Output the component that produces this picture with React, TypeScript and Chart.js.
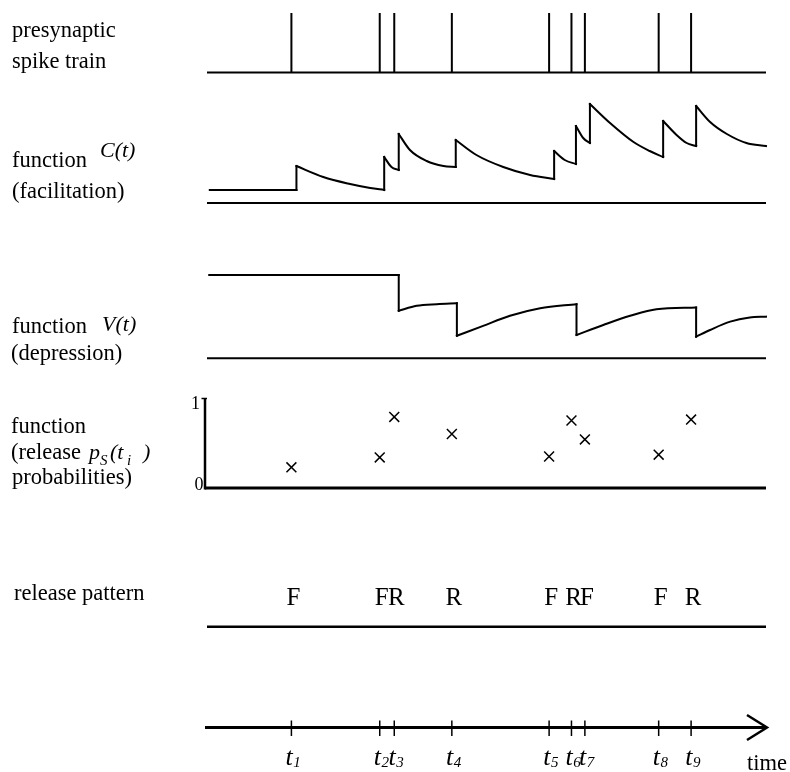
import React, { useEffect, useRef } from "react";
import { Chart, registerables } from "chart.js";

Chart.register(...registerables);

const W = 790;
const H = 772;

// ---------------- data ----------------
// presynaptic spike times (time axis 0..100)
const spikeTimes = [15.1, 30.9, 33.5, 43.8, 61.2, 65.2, 67.6, 80.8, 86.6];
const spikeSubscripts = ["1", "2", "3", "4", "5", "6", "7", "8", "9"];
// release probabilities p_S(t_i)
const releaseProbabilities = [0.23, 0.34, 0.79, 0.6, 0.35, 0.75, 0.54, 0.37, 0.76];
// release pattern: F = failure, R = release
const releaseOutcomes = ["F", "F", "R", "R", "F", "R", "F", "F", "R"];
const probTickValues = [0, 1];
const probTickLabels = ["0", "1"];

// facilitation C(t): piecewise segments (times / values)
const cSegmentTimes = [
  [0.5, 16.0],
  [16.0, 20.8, 25.6, 29.2, 31.7],
  [31.7, 33.0, 34.3],
  [34.3, 36.3, 39.3, 42.3, 44.5],
  [44.5, 48.2, 53.0, 57.8, 62.1],
  [62.1, 64.0, 66.0],
  [66.0, 67.3, 68.5],
  [68.5, 72.1, 76.3, 79.2, 81.6],
  [81.6, 84.0, 85.8, 87.5],
  [87.5, 90.0, 93.0, 96.5, 100],
];
const cSegmentValues = [
  [0.13, 0.13],
  [0.37, 0.26, 0.19, 0.15, 0.13],
  [0.46, 0.36, 0.33],
  [0.69, 0.53, 0.42, 0.37, 0.36],
  [0.63, 0.48, 0.36, 0.28, 0.24],
  [0.52, 0.43, 0.39],
  [0.77, 0.65, 0.6],
  [0.99, 0.8, 0.61, 0.52, 0.46],
  [0.82, 0.68, 0.6, 0.57],
  [0.97, 0.81, 0.69, 0.6, 0.57],
];

// depression V(t): piecewise segments
const vSegmentTimes = [
  [0.4, 34.3],
  [34.3, 37.5, 41.1, 44.7],
  [44.7, 49.4, 54.2, 59.6, 66.1],
  [66.1, 70.9, 75.7, 80.4, 87.5],
  [87.5, 90.0, 93.6, 97.1, 100],
];
const vSegmentValues = [
  [1, 1],
  [0.57, 0.63, 0.65, 0.66],
  [0.27, 0.39, 0.51, 0.6, 0.65],
  [0.28, 0.4, 0.51, 0.59, 0.61],
  [0.26, 0.34, 0.44, 0.49, 0.5],
];

// ---------------- layout / style ----------------
const PLOT_LEFT = 207;
const PLOT_RIGHT = 766;
// pixel row of value 0 and value 1 for each panel
const ROWS: Record<string, [number, number]> = {
  ySpike: [72.5, 13],
  yC: [203, 103],
  yV: [358.3, 275],
  yP: [488, 398],
  yR: [626.7, 606.7],
  yT: [727.5, 707.5],
};
const SERIF = "'Liberation Serif', 'Times New Roman', 'DejaVu Serif', serif";
const BLACK = "#000";

function rowAxis(id: string) {
  const [zero, one] = ROWS[id];
  const unit = zero - one;
  return { type: "linear", display: false, min: -(H - zero) / unit, max: zero / unit };
}

function segmentDatasets(times: number[][], values: number[][], axis: string) {
  const out: any[] = [];
  times.forEach((ts, k) => {
    out.push({
      yAxisID: axis,
      data: ts.map((t, i) => ({ x: t, y: values[k][i] })),
      borderColor: BLACK,
      borderWidth: 2,
      pointRadius: 0,
      cubicInterpolationMode: "monotone",
      borderCapStyle: "square",
      clip: false,
    });
  });
  const jumps: any[] = [];
  for (let k = 1; k < times.length; k++) {
    const t = times[k][0];
    const prev = values[k - 1][values[k - 1].length - 1];
    jumps.push({ x: t, y: prev }, { x: t, y: values[k][0] }, { x: t, y: null });
  }
  out.push({
    yAxisID: axis,
    data: jumps,
    borderColor: BLACK,
    borderWidth: 2,
    pointRadius: 0,
    borderCapStyle: "square",
    spanGaps: false,
    clip: false,
  });
  return out;
}

const LEFT_LABELS = [
  { text: "presynaptic", x: 12, y: 37 },
  { text: "spike train", x: 12, y: 68 },
  { text: "function", x: 12, y: 167 },
  { text: "(facilitation)", x: 12, y: 198 },
  { text: "function", x: 12, y: 333 },
  { text: "(depression)", x: 11, y: 360 },
  { text: "function", x: 11, y: 433 },
  { text: "(release", x: 11, y: 459 },
  { text: "probabilities)", x: 12, y: 484 },
  { text: "release pattern", x: 14, y: 600 },
];

const diagramPlugin = {
  id: "diagram",
  afterDraw(chart: any) {
    const { ctx, scales } = chart;
    const xs = scales.x;
    const px = (t: number) => xs.getPixelForValue(t);
    const py = (id: string, v: number) => scales[id].getPixelForValue(v);
    ctx.save();
    ctx.strokeStyle = BLACK;
    ctx.fillStyle = BLACK;
    ctx.lineJoin = "miter";
    const seg = (x1: number, y1: number, x2: number, y2: number, w: number) => {
      ctx.beginPath();
      ctx.lineWidth = w;
      ctx.moveTo(x1, y1);
      ctx.lineTo(x2, y2);
      ctx.stroke();
    };
    const text = (s: string, x: number, y: number, font: string, align: CanvasTextAlign = "left") => {
      ctx.font = font;
      ctx.textAlign = align;
      ctx.textBaseline = "alphabetic";
      ctx.fillText(s, x, y);
    };

    // panel baselines
    ["ySpike", "yC", "yV"].forEach((id) => {
      const y = py(id, 0);
      seg(px(0), y, px(100), y, 2);
    });

    // probability axis
    const p0 = py("yP", 0);
    const p1 = py("yP", 1);
    const axX = xs.left - 2;
    seg(axX, p0, px(100), p0, 3);
    seg(axX, p0 + 1.5, axX, p1, 2.5);
    seg(axX - 3.5, p1 + 0.5, axX + 2, p1 + 0.5, 1.5);
    probTickValues.forEach((v, i) => {
      const y = py("yP", v);
      text(probTickLabels[i], v === 0 ? axX - 1.5 : axX - 5, v === 0 ? y + 2 : y + 11, `18px ${SERIF}`, "right");
    });

    // release pattern line + letters
    const r0 = py("yR", 0);
    seg(px(0), r0, px(100), r0, 2.5);
    releaseOutcomes.forEach((s, i) => {
      text(s, px(spikeTimes[i]) + 2, r0 - 21.5, `25px ${SERIF}`, "center");
    });

    // time axis with arrow
    const ty = py("yT", 0);
    const tipX = xs.right + 1;
    seg(axX, ty, tipX - 1, ty, 3);
    ctx.beginPath();
    ctx.lineWidth = 2.5;
    ctx.moveTo(tipX - 20, ty - 12.5);
    ctx.lineTo(tipX, ty);
    ctx.lineTo(tipX - 20, ty + 12.5);
    ctx.stroke();
    spikeTimes.forEach((t, i) => {
      const x = px(t);
      seg(x, ty - 7, x, ty + 8.5, 1.5);
      ctx.font = `italic 26px ${SERIF}`;
      const wT = ctx.measureText("t").width;
      ctx.font = `italic 15px ${SERIF}`;
      const wS = ctx.measureText(spikeSubscripts[i]).width;
      const left = x + 1.5 - (wT + wS) / 2;
      text("t", left, ty + 37.5, `italic 26px ${SERIF}`);
      text(spikeSubscripts[i], left + wT + 0.5, ty + 39.5, `italic 15px ${SERIF}`);
    });
    text("time", 747, 770, `22.5px ${SERIF}`);

    // left labels
    LEFT_LABELS.forEach((l) => text(l.text, l.x, l.y, `22.5px ${SERIF}`));
    text("C(t)", 100, 157, `italic 22px ${SERIF}`);
    text("V(t)", 102, 331, `italic 22px ${SERIF}`);
    // p_S(t_i )
    text("p", 89, 459, `italic 22px ${SERIF}`);
    text("S", 100, 465, `italic 15px ${SERIF}`);
    text("(t", 110, 459, `italic 22px ${SERIF}`);
    text("i", 127, 465, `italic 15px ${SERIF}`);
    text(")", 143, 459, `italic 22px ${SERIF}`);

    ctx.restore();
  },
};

export default function App() {
  const ref = useRef<HTMLCanvasElement | null>(null);

  useEffect(() => {
    const canvas = ref.current;
    if (!canvas) return;

    const datasets: any[] = [];
    // spikes
    datasets.push({
      yAxisID: "ySpike",
      data: spikeTimes.flatMap((t) => [
        { x: t, y: 0 },
        { x: t, y: 1 },
        { x: t, y: null },
      ]),
      borderColor: BLACK,
      borderWidth: 2,
      pointRadius: 0,
      spanGaps: false,
      clip: false,
    });
    datasets.push(...segmentDatasets(cSegmentTimes, cSegmentValues, "yC"));
    datasets.push(...segmentDatasets(vSegmentTimes, vSegmentValues, "yV"));
    // release probabilities
    datasets.push({
      yAxisID: "yP",
      data: spikeTimes.map((t, i) => ({ x: t, y: releaseProbabilities[i] })),
      showLine: false,
      pointStyle: "crossRot",
      pointRadius: 7,
      pointBorderWidth: 1.5,
      pointBorderColor: BLACK,
      pointBackgroundColor: BLACK,
      borderColor: BLACK,
      clip: false,
    });

    const chart = new Chart(canvas, {
      type: "line",
      data: { datasets },
      options: {
        animation: false,
        responsive: false,
        devicePixelRatio: 1,
        events: [],
        layout: {
          autoPadding: false,
          padding: { left: PLOT_LEFT, right: W - PLOT_RIGHT, top: 0, bottom: 0 },
        },
        plugins: {
          legend: { display: false },
          tooltip: { enabled: false },
          title: { display: false },
        },
        scales: {
          x: { type: "linear", display: false, min: 0, max: 100 },
          ySpike: rowAxis("ySpike"),
          yC: rowAxis("yC"),
          yV: rowAxis("yV"),
          yP: rowAxis("yP"),
          yR: rowAxis("yR"),
          yT: rowAxis("yT"),
        } as any,
      },
      plugins: [diagramPlugin],
    } as any);

    return () => chart.destroy();
  }, []);

  return (
    <div style={{ position: "absolute", left: 0, top: 0, width: W, height: H, background: "#fff" }}>
      <canvas ref={ref} width={W} height={H} style={{ width: W, height: H, display: "block" }} />
    </div>
  );
}
